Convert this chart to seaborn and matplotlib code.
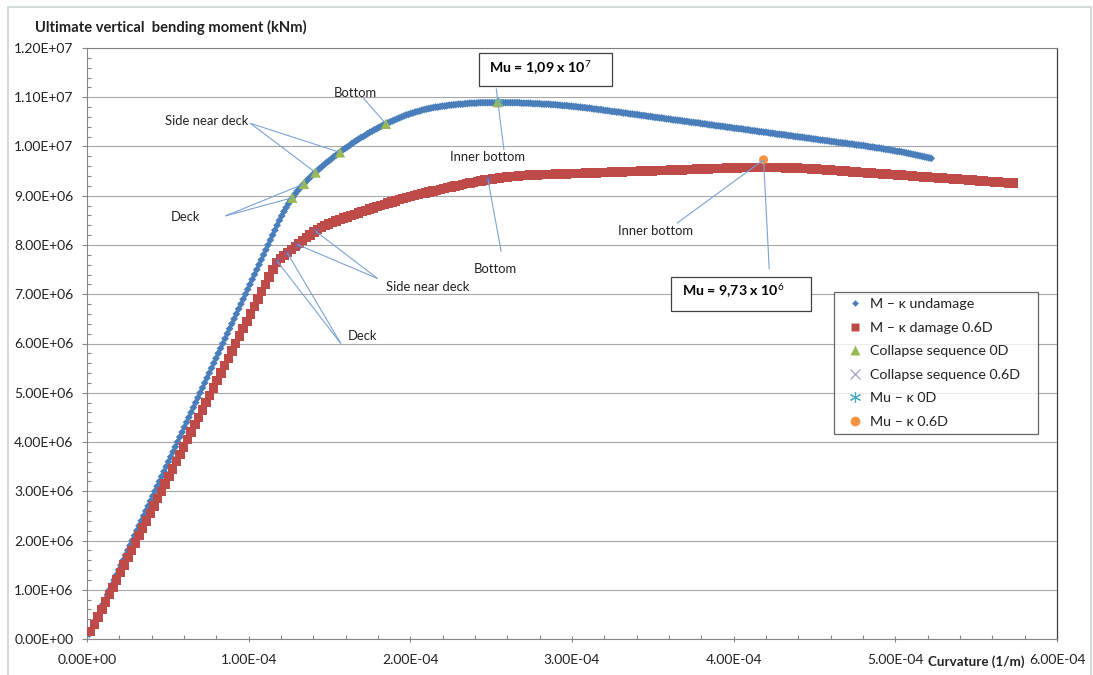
import numpy as np
import pandas as pd
import matplotlib
matplotlib.use("Agg")
import matplotlib.pyplot as plt
import seaborn as sns
from matplotlib.lines import Line2D
from matplotlib.patches import Rectangle
from matplotlib.ticker import MultipleLocator, FuncFormatter

# ---------------------------------------------------------------------------
# Data
# ---------------------------------------------------------------------------
# curvature increment of each incremental run (1/m)
KAPPA_STEP_0D = 1.4e-6
KAPPA_STEP_06D = 2.3e-6

# bending moment at every curvature increment, in 10^6 kNm (intact hull)
moment_0d = [
    0.1, 0.2, 0.3, 0.4, 0.5, 0.6, 0.7, 0.8, 0.9, 1.0,
    1.1, 1.2, 1.3, 1.4, 1.5, 1.6, 1.7, 1.8, 1.9, 2.0,
    2.1, 2.2, 2.3, 2.4, 2.5, 2.6, 2.7, 2.8, 2.9, 3.0,
    3.1, 3.2, 3.3, 3.4, 3.5, 3.6, 3.7, 3.8, 3.9, 4.0,
    4.1, 4.2, 4.3, 4.4, 4.5, 4.6, 4.7, 4.8, 4.9, 5.0,
    5.1, 5.2, 5.3, 5.4, 5.5, 5.6, 5.7, 5.8, 5.9, 6.0,
    6.1, 6.2, 6.3, 6.4, 6.5, 6.6, 6.7, 6.8, 6.9, 7.0,
    7.1, 7.2, 7.3, 7.4, 7.5, 7.6, 7.7, 7.8, 7.9, 8.0,
    8.1, 8.2, 8.3, 8.4,
    8.50, 8.59, 8.68, 8.76, 8.84, 8.91, 8.97, 9.04, 9.10, 9.15, 9.20, 9.25,
    9.30, 9.35, 9.39, 9.44, 9.48,
    9.52, 9.56, 9.60, 9.64, 9.68, 9.71, 9.75, 9.79, 9.82, 9.86, 9.89,
    9.93, 9.96, 9.99, 10.02, 10.06, 10.09, 10.12, 10.15, 10.18, 10.20,
    10.23, 10.26, 10.29, 10.31, 10.34, 10.36, 10.39, 10.41, 10.44, 10.46,
    10.48, 10.50, 10.52, 10.54, 10.56, 10.58, 10.60, 10.62, 10.64, 10.65,
    10.67, 10.68, 10.70, 10.71, 10.72, 10.74, 10.75, 10.76, 10.77, 10.78,
    10.79, 10.80, 10.80, 10.81,
    10.82, 10.82, 10.83, 10.84, 10.84, 10.85, 10.85, 10.86, 10.86, 10.86,
    10.87, 10.87, 10.88, 10.88, 10.88, 10.88, 10.89, 10.89, 10.89, 10.89,
    10.89, 10.89, 10.89, 10.89, 10.89,
    10.89, 10.89, 10.89, 10.89, 10.89, 10.89, 10.89, 10.89, 10.89, 10.89,
    10.88, 10.88, 10.88, 10.88, 10.88, 10.87, 10.87, 10.87, 10.87, 10.86,
    10.86, 10.86, 10.86, 10.85, 10.85, 10.85, 10.84, 10.84, 10.83, 10.83,
    10.83, 10.82, 10.82, 10.81, 10.81, 10.80, 10.80, 10.79, 10.79, 10.78,
    10.78, 10.77, 10.76, 10.76, 10.75, 10.75,
    10.74, 10.73, 10.73, 10.72, 10.71, 10.71, 10.70, 10.70, 10.69, 10.68,
    10.68, 10.67, 10.66, 10.66, 10.65, 10.65, 10.64, 10.63, 10.63, 10.62,
    10.61, 10.61, 10.60, 10.59, 10.59, 10.58, 10.58, 10.57, 10.56, 10.56,
    10.55, 10.54, 10.54, 10.53, 10.53, 10.52, 10.51, 10.51, 10.50, 10.49,
    10.49, 10.48, 10.48, 10.47, 10.46, 10.46, 10.45, 10.44, 10.44, 10.43,
    10.42, 10.42, 10.41, 10.41, 10.40, 10.39, 10.39, 10.38, 10.37, 10.37,
    10.36, 10.36, 10.35, 10.34, 10.34, 10.33, 10.32, 10.32, 10.31, 10.30,
    10.30, 10.29, 10.29, 10.28, 10.27, 10.27, 10.26, 10.25, 10.25, 10.24,
    10.24, 10.23, 10.22, 10.22, 10.21, 10.20, 10.20, 10.19, 10.19, 10.18,
    10.17, 10.17, 10.16, 10.15, 10.15, 10.14, 10.13, 10.13, 10.12, 10.12,
    10.11, 10.10, 10.10, 10.09, 10.08, 10.08, 10.07, 10.07, 10.06, 10.05,
    10.05, 10.04, 10.03, 10.03, 10.02, 10.02,
    10.01, 10.00, 9.99, 9.99, 9.98, 9.97, 9.97, 9.96, 9.95, 9.94,
    9.94, 9.93, 9.92, 9.91, 9.90, 9.90, 9.89, 9.88, 9.87, 9.86,
    9.85, 9.84, 9.83, 9.82, 9.81, 9.80, 9.79, 9.78, 9.77, 9.76,
]

# bending moment at every curvature increment, in 10^6 kNm (damage 0.6D)
moment_06d = [
    0.15, 0.30, 0.45, 0.60, 0.75, 0.90, 1.05, 1.20, 1.35, 1.50,
    1.65, 1.80, 1.95, 2.10, 2.25, 2.40, 2.55, 2.70, 2.85, 3.00,
    3.15, 3.30, 3.45, 3.60, 3.75, 3.90, 4.05, 4.20, 4.35, 4.50,
    4.65, 4.80, 4.95, 5.10, 5.25, 5.40, 5.55, 5.70, 5.85, 6.00,
    6.15, 6.30, 6.45, 6.60, 6.75, 6.90, 7.05, 7.20, 7.35, 7.50,
    7.65,
    7.73, 7.79, 7.85, 7.91, 7.97, 8.03, 8.09, 8.15, 8.20, 8.26, 8.31,
    8.36, 8.40, 8.43, 8.46, 8.49, 8.52, 8.55, 8.57, 8.60, 8.62,
    8.65, 8.68, 8.70, 8.73, 8.75, 8.78, 8.80, 8.82, 8.85, 8.87,
    8.89, 8.92, 8.94, 8.96, 8.98, 9.00, 9.02, 9.04, 9.06, 9.08,
    9.10, 9.11, 9.13, 9.15, 9.17, 9.18, 9.20, 9.21, 9.23, 9.25,
    9.26, 9.27, 9.29, 9.30, 9.32, 9.33, 9.34, 9.35, 9.36, 9.37,
    9.38, 9.39, 9.39, 9.40, 9.41, 9.41, 9.42, 9.42, 9.42,
    9.43, 9.43, 9.43, 9.43, 9.44, 9.44, 9.44, 9.44, 9.45, 9.45,
    9.45, 9.45, 9.46, 9.46, 9.46, 9.46, 9.47, 9.47, 9.47, 9.48,
    9.48, 9.48, 9.48, 9.49, 9.49, 9.49, 9.49, 9.50, 9.50, 9.50,
    9.50, 9.51, 9.51, 9.51, 9.51, 9.52, 9.52, 9.52, 9.52, 9.53,
    9.53, 9.53, 9.54, 9.54, 9.54, 9.54, 9.55, 9.55, 9.55, 9.55,
    9.56, 9.56, 9.56,
    9.56, 9.57, 9.57, 9.57, 9.57, 9.57, 9.57, 9.57,
    9.57, 9.57, 9.57, 9.57, 9.57, 9.56, 9.56, 9.56, 9.56, 9.55,
    9.55, 9.55, 9.54, 9.54, 9.53, 9.53,
    9.52, 9.52, 9.51, 9.51, 9.50, 9.50, 9.49, 9.48, 9.48, 9.47,
    9.47, 9.46, 9.46, 9.45, 9.45, 9.44, 9.44, 9.43, 9.43, 9.42,
    9.42, 9.41, 9.41, 9.40, 9.39, 9.39, 9.38, 9.38, 9.37, 9.37,
    9.36, 9.36, 9.35, 9.35, 9.34, 9.34, 9.33, 9.33, 9.32, 9.32,
    9.31, 9.30, 9.30, 9.29, 9.29, 9.28, 9.28, 9.27, 9.27, 9.26,
    9.26,
]

# collapse sequence, intact hull (curvature 1/m, moment kNm)
collapse_0d_kappa = [1.270e-4, 1.342e-4, 1.414e-4, 1.565e-4, 1.849e-4, 2.541e-4]
collapse_0d_moment = [8.96e6, 9.24e6, 9.47e6, 9.88e6, 10.46e6, 10.90e6]

# collapse sequence, damage 0.6D
collapse_06d_kappa = [1.177e-4, 1.239e-4, 1.301e-4, 1.414e-4, 2.480e-4]
collapse_06d_moment = [7.67e6, 7.84e6, 8.01e6, 8.28e6, 9.33e6]

# ultimate strength points
mu_0d_kappa, mu_0d_moment = 2.541e-4, 1.09e7
mu_06d_kappa, mu_06d_moment = 4.185e-4, 9.73e6

legend_labels = [
    "M \u2013 \u03ba undamage",
    "M \u2013 \u03ba damage 0.6D",
    "Collapse sequence 0D",
    "Collapse sequence 0.6D",
    "Mu \u2013 \u03ba 0D",
    "Mu \u2013 \u03ba 0.6D",
]

# ---------------------------------------------------------------------------
# Style
# ---------------------------------------------------------------------------
sns.set_style("white")
plt.rcParams["font.family"] = ["Lato", "DejaVu Sans"]
plt.rcParams["mathtext.fontset"] = "custom"
plt.rcParams["mathtext.rm"] = "Lato"
plt.rcParams["mathtext.it"] = "Lato:italic"
plt.rcParams["mathtext.bf"] = "Lato:bold"

BLUE = "#4A7EBB"
RED = "#BE4B48"
GREEN = "#98B954"
PURPLE = "#7D60A0"
CYAN = "#46AAC5"
ORANGE = "#F69240"
LEADER = "#7BA3D6"
TEXT = "#222222"
AXIS = "#868686"

W, H = 1093, 675
fig = plt.figure(figsize=(W / 100, H / 100), dpi=100)
ax = fig.add_axes([87 / W, 1 - 639 / H, (1057 - 87) / W, (639 - 48) / H])

df_0d = pd.DataFrame({
    "kappa": KAPPA_STEP_0D * np.arange(1, len(moment_0d) + 1),
    "moment": np.asarray(moment_0d) * 1e6,
})
df_06d = pd.DataFrame({
    "kappa": KAPPA_STEP_06D * np.arange(1, len(moment_06d) + 1),
    "moment": np.asarray(moment_06d) * 1e6,
})

sns.scatterplot(data=df_0d, x="kappa", y="moment", marker="D", s=16,
                color=BLUE, edgecolor="none", linewidth=0, ax=ax,
                legend=False, zorder=3)
sns.scatterplot(data=df_06d, x="kappa", y="moment", marker="s", s=46,
                color=RED, edgecolor="none", linewidth=0, ax=ax,
                legend=False, zorder=3)
sns.scatterplot(x=[mu_0d_kappa], y=[mu_0d_moment], marker=(6, 2, 0), s=45,
                color=CYAN, linewidth=1.0, ax=ax, legend=False, zorder=3.5)
sns.scatterplot(x=collapse_0d_kappa, y=collapse_0d_moment, marker="^", s=55,
                color=GREEN, edgecolor="none", linewidth=0, ax=ax,
                legend=False, zorder=4)
sns.scatterplot(x=collapse_06d_kappa, y=collapse_06d_moment, marker="x", s=22,
                color=PURPLE, linewidth=0.9, ax=ax, legend=False, zorder=4)
sns.scatterplot(x=[mu_06d_kappa], y=[mu_06d_moment], marker="o", s=42,
                color=ORANGE, edgecolor="none", linewidth=0, ax=ax,
                legend=False, zorder=4)

# ---------------------------------------------------------------------------
# Axes
# ---------------------------------------------------------------------------
ax.set_xlim(0, 6e-4)
ax.set_ylim(0, 1.2e7)
ax.set_xlabel("")
ax.set_ylabel("")
ax.xaxis.set_major_locator(MultipleLocator(1e-4))
ax.xaxis.set_minor_locator(MultipleLocator(2e-5))
ax.yaxis.set_major_locator(MultipleLocator(1e6))
ax.yaxis.set_minor_locator(MultipleLocator(2e5))
sci = FuncFormatter(lambda v, _: f"{v:.2E}")
ax.xaxis.set_major_formatter(sci)
ax.yaxis.set_major_formatter(sci)

ax.yaxis.grid(True, which="major", color="#A6A6A6", lw=0.8)
ax.xaxis.grid(False)
ax.set_axisbelow(True)

for side in ("left", "bottom"):
    ax.spines[side].set_color(AXIS)
    ax.spines[side].set_linewidth(0.8)
ax.spines["top"].set_color("#808080")
ax.spines["top"].set_linewidth(0.8)
ax.spines["right"].set_color("#404040")
ax.spines["right"].set_linewidth(0.9)

ax.tick_params(axis="y", which="major", direction="out", length=3.8,
               width=0.8, color=AXIS, pad=6, labelsize=10, labelcolor=TEXT,
               left=True, right=False)
ax.tick_params(axis="y", which="minor", direction="in", length=2.6,
               width=0.8, color=AXIS, left=True, right=False)
ax.tick_params(axis="x", which="major", direction="inout", length=5.0,
               width=0.8, color=AXIS, pad=8.5, labelsize=10, labelcolor=TEXT,
               bottom=True, top=False)
ax.tick_params(axis="x", which="minor", direction="in", length=2.6,
               width=0.8, color=AXIS, bottom=True, top=False)

# ---------------------------------------------------------------------------
# Titles and chart frame
# ---------------------------------------------------------------------------
fig.text(35 / W, 1 - 27 / H, "Ultimate vertical  bending moment (kNm)",
         ha="left", va="center", fontsize=10.6, fontweight="bold", color=TEXT)
fig.text(976 / W, 1 - 662 / H, "Curvature (1/m)", ha="center", va="center",
         fontsize=9.6, fontweight="bold", color=TEXT)
fig.patches.append(Rectangle((8 / W, -0.02), (1091 - 8) / W, 1 - 7 / H + 0.02,
                             transform=fig.transFigure, fill=False,
                             edgecolor="#CDD5D1", lw=1.2))

# ---------------------------------------------------------------------------
# Collapse sequence annotations
# ---------------------------------------------------------------------------
def leader(x0, y0, x1, y1):
    ax.plot([x0, x1], [y0, y1], color=LEADER, lw=0.8, zorder=5,
            solid_capstyle="butt")


def note(x, y, s):
    ax.text(x, y, s, ha="center", va="center", fontsize=9.4, color=TEXT,
            zorder=6)


ck, cm = collapse_0d_kappa, collapse_0d_moment
dk, dm = collapse_06d_kappa, collapse_06d_moment

# intact hull
note(1.657e-4, 11.09e6, "Bottom")
leader(1.710e-4, 10.98e6, ck[4], cm[4])
note(0.743e-4, 10.52e6, "Side near deck")
leader(1.011e-4, 10.47e6, ck[3], cm[3])
leader(1.011e-4, 10.47e6, ck[2], cm[2])
note(0.608e-4, 8.575e6, "Deck")
leader(0.856e-4, 8.59e6, ck[1], cm[1])
leader(0.856e-4, 8.59e6, ck[0], cm[0])
note(2.478e-4, 9.78e6, "Inner bottom")
leader(2.531e-4, 11.18e6, 2.579e-4, 9.93e6)

# damage 0.6D
note(2.527e-4, 7.507e6, "Bottom")
leader(dk[4], dm[4], 2.562e-4, 7.864e6)
note(2.107e-4, 7.153e6, "Side near deck")
leader(1.797e-4, 7.32e6, dk[3], dm[3])
leader(1.797e-4, 7.32e6, dk[2], dm[2])
note(1.704e-4, 6.152e6, "Deck")
leader(1.570e-4, 6.00e6, dk[1], dm[1])
leader(1.570e-4, 6.00e6, dk[0], dm[0])
note(3.519e-4, 8.29e6, "Inner bottom")
leader(3.648e-4, 8.44e6, mu_06d_kappa, mu_06d_moment)
leader(mu_06d_kappa, mu_06d_moment, 4.220e-4, 7.51e6)

# ultimate strength boxes
for (x0, x1, y0, y1, tx, ty, label) in [
    (2.427e-4, 3.249e-4, 11.23e6, 11.90e6, 2.487e-4, 11.59e6,
     "Mu = 1,09 x 10$^{7}$"),
    (3.612e-4, 4.481e-4, 6.66e6, 7.36e6, 3.679e-4, 7.06e6,
     "Mu = 9,73 x 10$^{6}$"),
]:
    ax.add_patch(Rectangle((x0, y0), x1 - x0, y1 - y0, facecolor="white",
                           edgecolor="#404040", lw=0.9, zorder=6))
    ax.text(tx, ty, label, ha="left", va="center", fontsize=10.2,
            fontweight="bold", color="black", zorder=7)

# ---------------------------------------------------------------------------
# Legend
# ---------------------------------------------------------------------------
handles = [
    Line2D([], [], ls="none", marker="D", ms=3.4, color=BLUE, mec="none"),
    Line2D([], [], ls="none", marker="s", ms=6.0, color=RED, mec="none"),
    Line2D([], [], ls="none", marker="^", ms=7.5, color=GREEN, mec="none"),
    Line2D([], [], ls="none", marker="x", ms=7.0, color="#A392C4", mew=0.8),
    Line2D([], [], ls="none", marker=(6, 2, 0), ms=8.0, color=CYAN, mew=0.8),
    Line2D([], [], ls="none", marker="o", ms=7.0, color=ORANGE, mec="none"),
]
leg = fig.legend(handles, legend_labels, loc="upper left",
                 bbox_to_anchor=(834 / W, 1 - 433 / H, 204 / W, 141 / H),
                 mode="expand", frameon=True,
                 fancybox=False, edgecolor="#404040", facecolor="white",
                 fontsize=10.3, handlelength=2.0, handletextpad=0.1,
                 labelspacing=0.8, borderpad=0.45, borderaxespad=0)
leg.get_frame().set_linewidth(0.9)
for t in leg.get_texts():
    t.set_color(TEXT)

fig.savefig("out.png", dpi=100)
